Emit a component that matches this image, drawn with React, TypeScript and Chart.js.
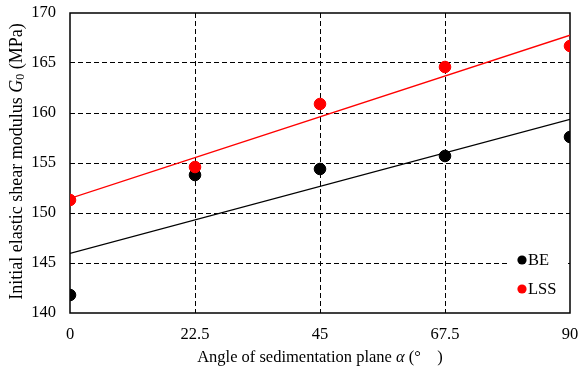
import React, { useEffect, useRef } from "react";
import { Chart, registerables } from "chart.js";

Chart.register(...registerables);

const ANGLES = [0, 22.5, 45, 67.5, 90];
const BE = [141.8, 153.8, 154.4, 155.7, 157.6];
const LSS = [151.3, 154.6, 160.9, 164.6, 166.7];
const X_TICKS = [0, 22.5, 45, 67.5, 90];
const Y_TICKS = [140, 145, 150, 155, 160, 165, 170];
const SERIES_NAMES = ["BE", "LSS"];
const COLORS = ["#000000", "#ff0000"];

const FONT = "'Liberation Serif', 'Times New Roman', serif";
const FS = 16.5;
const YFS = 18;

function trend(xs: number[], ys: number[]) {
  const n = xs.length;
  const mx = xs.reduce((a, b) => a + b, 0) / n;
  const my = ys.reduce((a, b) => a + b, 0) / n;
  let sxy = 0, sxx = 0;
  for (let i = 0; i < n; i++) {
    sxy += (xs[i] - mx) * (ys[i] - my);
    sxx += (xs[i] - mx) * (xs[i] - mx);
  }
  const b = sxy / sxx;
  const a = my - b * mx;
  const x0 = Math.min(...xs), x1 = Math.max(...xs);
  return [{ x: x0, y: a + b * x0 }, { x: x1, y: a + b * x1 }];
}

function drawSegments(ctx: CanvasRenderingContext2D, segs: { t: string; f: string; dy?: number }[], cx: number, cy: number) {
  let total = 0;
  for (const s of segs) { ctx.font = s.f; total += ctx.measureText(s.t).width; }
  let x = cx - total / 2;
  ctx.textBaseline = "middle";
  ctx.textAlign = "left";
  for (const s of segs) {
    ctx.font = s.f;
    ctx.fillText(s.t, x, cy + (s.dy || 0));
    x += ctx.measureText(s.t).width;
  }
}

const decorPlugin = {
  id: "decor",
  beforeDatasetsDraw(chart: any) {
    const { ctx, chartArea } = chart;
    const { left, top, right, bottom } = chartArea;
    ctx.save();
    ctx.fillStyle = "#ffffff";
    ctx.fillRect(right - 62, bottom - 68, 60, 56);
    ctx.strokeStyle = "#000";
    ctx.lineWidth = 1.5;
    ctx.strokeRect(left, top, right - left, bottom - top);
    ctx.restore();
  },
  afterDraw(chart: any) {
    const { ctx, chartArea } = chart;
    const { left, top, right, bottom } = chartArea;
    ctx.save();
    ctx.fillStyle = "#000";
    const ly = [bottom - 53, bottom - 24];
    SERIES_NAMES.forEach((name, i) => {
      ctx.beginPath();
      ctx.fillStyle = COLORS[i];
      ctx.arc(right - 48, ly[i], 4.6, 0, Math.PI * 2);
      ctx.fill();
      ctx.fillStyle = "#000";
      ctx.font = `${FS}px ${FONT}`;
      ctx.textBaseline = "middle";
      ctx.textAlign = "left";
      ctx.fillText(name, right - 42, ly[i] + 1);
    });
    drawSegments(ctx, [
      { t: "Angle of sedimentation plane ", f: `${FS}px ${FONT}` },
      { t: "α", f: `italic ${FS}px ${FONT}` },
      { t: " (°\u2003)", f: `${FS}px ${FONT}` },
    ], (left + right) / 2, 358);
    ctx.translate(17, (top + bottom) / 2 - 1.5);
    ctx.rotate(-Math.PI / 2);
    drawSegments(ctx, [
      { t: "Initial elastic shear modulus ", f: `${YFS}px ${FONT}` },
      { t: "G", f: `italic ${YFS}px ${FONT}` },
      { t: "0", f: `12px ${FONT}`, dy: 4 },
      { t: " (MPa)", f: `${YFS}px ${FONT}` },
    ], 0, 0);
    ctx.restore();
  },
};

export default function App() {
  const ref = useRef<HTMLCanvasElement>(null);
  useEffect(() => {
    document.body.style.margin = "0";
    const canvas = ref.current!;
    const pts = (ys: number[]) => ANGLES.map((x, i) => ({ x, y: ys[i] }));
    const chart = new Chart(canvas, {
      type: "scatter",
      data: {
        datasets: [
          { label: "LSS", data: pts(LSS), backgroundColor: COLORS[1], borderColor: COLORS[1], pointRadius: 5.8, pointHoverRadius: 5.8, showLine: false, order: 0 },
          { label: "BE", data: pts(BE), backgroundColor: COLORS[0], borderColor: COLORS[0], pointRadius: 5.8, pointHoverRadius: 5.8, showLine: false, order: 1 },
          { label: "LSS trend", data: trend(ANGLES, LSS), borderColor: COLORS[1], borderWidth: 1.3, pointRadius: 0, showLine: true, order: 2 },
          { label: "BE trend", data: trend(ANGLES, BE), borderColor: COLORS[0], borderWidth: 1.2, pointRadius: 0, showLine: true, order: 3 },
        ] as any,
      },
      options: {
        animation: false,
        responsive: false,
        layout: { padding: { top: 13, right: 9, left: 0, bottom: 0 } },
        plugins: { legend: { display: false }, tooltip: { enabled: false } },
        scales: {
          x: {
            type: "linear",
            min: 0,
            max: 90,
            afterBuildTicks: (s: any) => { s.ticks = X_TICKS.map((v) => ({ value: v })); },
            afterFit: (s: any) => { s.height = 59; s.paddingLeft = 0; s.paddingRight = 0; },
            ticks: { color: "#000", font: { family: FONT, size: FS }, padding: 12, maxRotation: 0, callback: (v: any) => String(v) },
            grid: {
              drawTicks: false,
              color: (c: any) => (c.tick && (c.tick.value === 0 || c.tick.value === 90) ? "rgba(0,0,0,0)" : "#000"),
              lineWidth: 1,
            },
            border: { display: false, dash: [5, 3] },
          },
          y: {
            type: "linear",
            min: 140,
            max: 170,
            afterBuildTicks: (s: any) => { s.ticks = Y_TICKS.map((v) => ({ value: v })); },
            afterFit: (s: any) => { s.width = 70; s.paddingTop = 0; s.paddingBottom = 0; },
            ticks: { color: "#000", font: { family: FONT, size: FS }, padding: 14, callback: (v: any) => String(v) },
            grid: {
              drawTicks: false,
              color: (c: any) => (c.tick && (c.tick.value === 140 || c.tick.value === 170) ? "rgba(0,0,0,0)" : "#000"),
              lineWidth: 1,
            },
            border: { display: false, dash: [5, 3] },
          },
        },
      },
      plugins: [decorPlugin],
    });
    return () => chart.destroy();
  }, []);
  return (
    <div style={{ width: 579, height: 372 }}>
      <canvas ref={ref} width={579} height={372} style={{ display: "block" }} />
    </div>
  );
}
